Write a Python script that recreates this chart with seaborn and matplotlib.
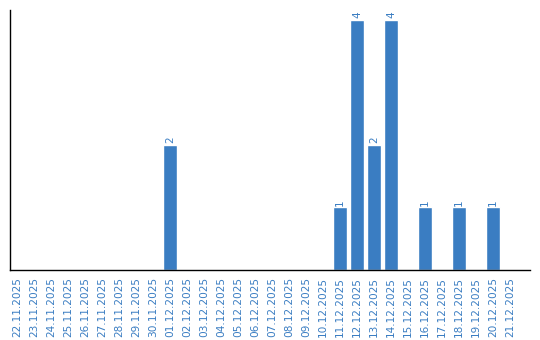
import matplotlib
matplotlib.use("Agg")
import matplotlib.pyplot as plt
import seaborn as sns
import pandas as pd

dates = ["22.11.2025", "23.11.2025", "24.11.2025", "25.11.2025", "26.11.2025", "27.11.2025",
         "28.11.2025", "29.11.2025", "30.11.2025", "01.12.2025", "02.12.2025", "03.12.2025",
         "04.12.2025", "05.12.2025", "06.12.2025", "07.12.2025", "08.12.2025", "09.12.2025",
         "10.12.2025", "11.12.2025", "12.12.2025", "13.12.2025", "14.12.2025", "15.12.2025",
         "16.12.2025", "17.12.2025", "18.12.2025", "19.12.2025", "20.12.2025", "21.12.2025"]
counts = [0, 0, 0, 0, 0, 0, 0, 0, 0, 2, 0, 0, 0, 0, 0, 0, 0, 0, 0, 1, 4, 2, 4, 0, 1, 0, 1, 0, 1, 0]

color = "#3a7dc2"
df = pd.DataFrame({"date": dates, "count": counts})

sns.set_style("white")
fig = plt.figure(figsize=(5.4, 3.4), dpi=100)
ax = fig.add_axes([0.0194, 0.2059, 0.963, 0.7647])
sns.barplot(data=df, x="date", y="count", color=color, width=0.82, saturation=1, ax=ax)

for i, v in enumerate(counts):
    if v > 0:
        ax.text(i, v + 0.03, str(v), rotation=90, ha="center", va="bottom",
                color=color, fontsize=7.5)

ax.set_xlim(-0.382, 30.21)
ax.set_ylim(0, 4.16)
ax.set_xlabel("")
ax.set_ylabel("")
ax.set_yticks([])
ax.tick_params(axis="x", length=0, pad=5, labelsize=7.6, labelcolor=color, rotation=90)
for s in ["top", "right"]:
    ax.spines[s].set_visible(False)
for s in ["left", "bottom"]:
    ax.spines[s].set_color("black")
    ax.spines[s].set_linewidth(1)

fig.savefig("out.png", dpi=100)
